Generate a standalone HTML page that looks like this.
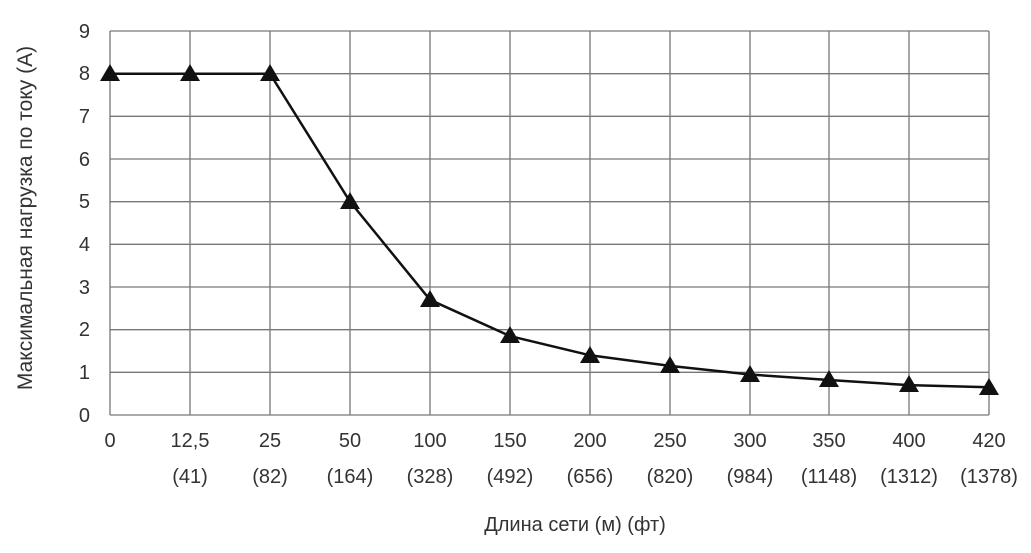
<!DOCTYPE html><html><head><meta charset="utf-8"><style>body{margin:0;background:#fff}</style></head><body>
<svg width="1031" height="548" xmlns="http://www.w3.org/2000/svg" font-family="Liberation Sans, sans-serif" font-size="20" fill="#333">
<g stroke="#777" stroke-width="1.3">
<line x1="110" y1="31" x2="989" y2="31"/><line x1="110" y1="73.7" x2="989" y2="73.7"/><line x1="110" y1="116.3" x2="989" y2="116.3"/><line x1="110" y1="159" x2="989" y2="159"/><line x1="110" y1="201.7" x2="989" y2="201.7"/><line x1="110" y1="244.3" x2="989" y2="244.3"/><line x1="110" y1="287" x2="989" y2="287"/><line x1="110" y1="329.7" x2="989" y2="329.7"/><line x1="110" y1="372.3" x2="989" y2="372.3"/><line x1="110" y1="415" x2="989" y2="415"/>
<line x1="110" y1="31" x2="110" y2="415"/><line x1="190" y1="31" x2="190" y2="415"/><line x1="270" y1="31" x2="270" y2="415"/><line x1="350" y1="31" x2="350" y2="415"/><line x1="430" y1="31" x2="430" y2="415"/><line x1="510" y1="31" x2="510" y2="415"/><line x1="590" y1="31" x2="590" y2="415"/><line x1="670" y1="31" x2="670" y2="415"/><line x1="750" y1="31" x2="750" y2="415"/><line x1="829" y1="31" x2="829" y2="415"/><line x1="909" y1="31" x2="909" y2="415"/><line x1="989" y1="31" x2="989" y2="415"/>
</g>
<g text-anchor="end"><text x="90" y="422">0</text><text x="90" y="379">1</text><text x="90" y="336">2</text><text x="90" y="294">3</text><text x="90" y="251">4</text><text x="90" y="208">5</text><text x="90" y="166">6</text><text x="90" y="123">7</text><text x="90" y="80">8</text><text x="90" y="38">9</text></g>
<g text-anchor="middle">
<text x="110" y="447">0</text><text x="190" y="447">12,5</text><text x="270" y="447">25</text><text x="350" y="447">50</text><text x="430" y="447">100</text><text x="510" y="447">150</text><text x="590" y="447">200</text><text x="670" y="447">250</text><text x="750" y="447">300</text><text x="829" y="447">350</text><text x="909" y="447">400</text><text x="989" y="447">420</text>
<text x="190" y="483">(41)</text><text x="270" y="483">(82)</text><text x="350" y="483">(164)</text><text x="430" y="483">(328)</text><text x="510" y="483">(492)</text><text x="590" y="483">(656)</text><text x="670" y="483">(820)</text><text x="750" y="483">(984)</text><text x="829" y="483">(1148)</text><text x="909" y="483">(1312)</text><text x="989" y="483">(1378)</text>
<text x="575" y="531">Длина сети (м) (фт)</text>
<text transform="translate(32,218) rotate(-90)" font-size="21">Максимальная нагрузка по току (А)</text>
</g>
<polyline fill="none" stroke="#111" stroke-width="2.5" points="110,73.7 190,73.7 270,73.7 350,201.7 430,299.8 510,336.1 590,355.3 670,365.9 750,374.5 829,380 909,385.1 989,387.3"/>
<g fill="#111">
<path d="M110,64l-10,17h20z"/><path d="M190,64l-10,17h20z"/><path d="M270,64l-10,17h20z"/><path d="M350,192l-10,17h20z"/><path d="M430,290l-10,17h20z"/><path d="M510,326l-10,17h20z"/><path d="M590,346l-10,17h20z"/><path d="M670,356l-10,17h20z"/><path d="M750,365l-10,17h20z"/><path d="M829,370l-10,17h20z"/><path d="M909,375l-10,17h20z"/><path d="M989,378l-10,17h20z"/>
</g>
</svg></body></html>
